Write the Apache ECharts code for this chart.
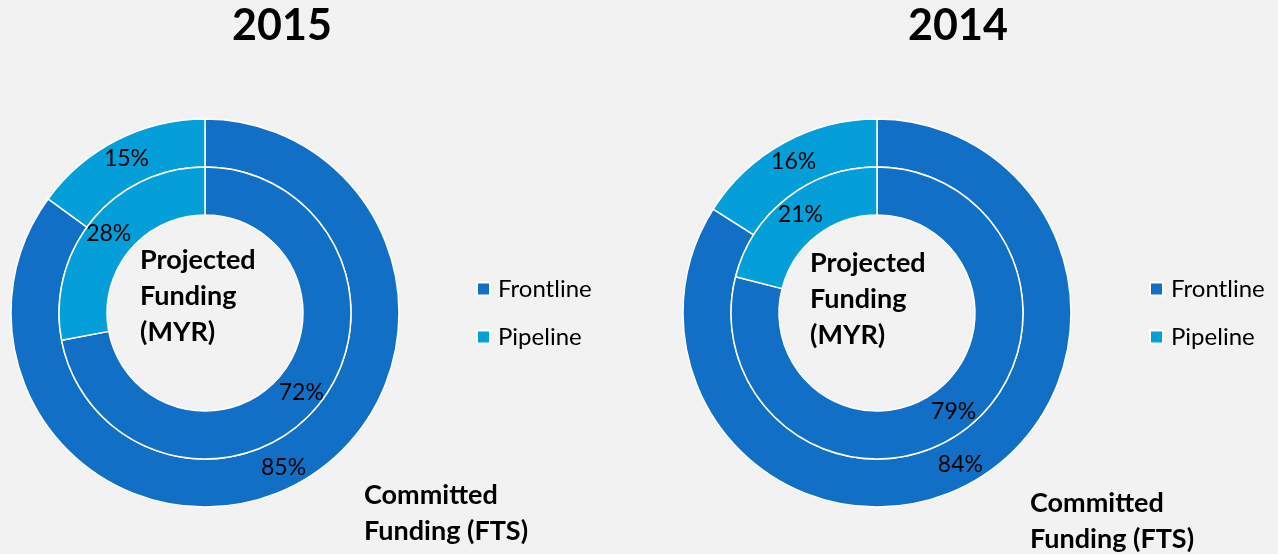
<!DOCTYPE html>
<html>
<head>
<meta charset="utf-8">
<script src="https://cdn.jsdelivr.net/npm/echarts@6/dist/echarts.min.js"></script>
<style>
  html, body { margin: 0; padding: 0; background: #f2f2f2; }
  #main { width: 1278px; height: 554px; }
</style>
</head>
<body>
<div id="main"></div>
<script>
// 数据
var categories = ['Frontline', 'Pipeline'];
var years = ['2015', '2014'];
var committed2015 = [85, 15];
var projected2015 = [72, 28];
var committed2014 = [84, 16];
var projected2014 = [79, 21];

var colors = ['#1170c6', '#049fd8'];
var font = 'Lato, "Open Sans", sans-serif';

function toData(vals) {
    return categories.map(function (c, i) {
        return { name: c, value: vals[i] };
    });
}

function ring(vals, center, radius) {
    return {
        type: 'pie',
        center: center,
        radius: radius,
        startAngle: 90,
        clockwise: true,
        silent: true,
        data: toData(vals),
        itemStyle: { borderColor: '#ffffff', borderWidth: 1.5 },
        label: {
            show: true,
            position: 'inside',
            formatter: '{c}%',
            color: '#000',
            fontFamily: font,
            fontSize: 23
        },
        labelLine: { show: false },
        emphasis: { disabled: true }
    };
}

function txt(x, y, s, size, align) {
    return {
        type: 'text',
        x: x,
        y: y,
        style: {
            text: s,
            fill: '#000',
            font: 'bold ' + size + 'px ' + font,
            lineHeight: 36,
            textAlign: align || 'left',
            textVerticalAlign: 'top'
        }
    };
}

function legendAt(left) {
    return {
        orient: 'vertical',
        left: left,
        top: 272,
        data: categories,
        icon: 'rect',
        itemWidth: 13,
        itemHeight: 13,
        itemGap: 24,
        textStyle: { fontFamily: font, fontSize: 24, color: '#000', lineHeight: 24, padding: [0, 0, 0, 3] }
    };
}

var myChart = echarts.init(document.getElementById('main'));

var option = {
    backgroundColor: '#f2f2f2',
    animation: false,
    color: colors,
    legend: [legendAt(471), legendAt(1144)],
    graphic: [
        txt(282, 8, years[0], 43, 'center'),
        txt(958, 8, years[1], 43, 'center'),
        txt(140, 242, 'Projected\nFunding\n(MYR)', 27),
        txt(810, 245, 'Projected\nFunding\n(MYR)', 27),
        txt(364, 477, 'Committed\nFunding (FTS)', 27),
        txt(1030, 485, 'Committed\nFunding (FTS)', 27)
    ],
    series: [
        ring(committed2015, [205, 313], [146, 194]),
        ring(projected2015, [205, 313], [98, 146]),
        ring(committed2014, [877, 313], [146, 194]),
        ring(projected2014, [877, 313], [98, 146])
    ]
};

myChart.setOption(option);
</script>
</body>
</html>
